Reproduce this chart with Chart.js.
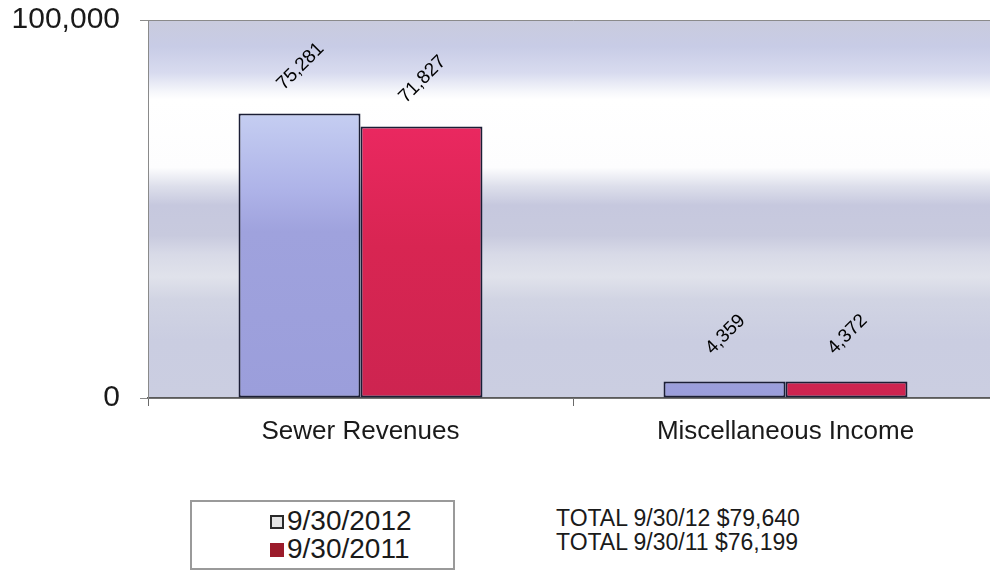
<!DOCTYPE html>
<html>
<head>
<meta charset="utf-8">
<script src="https://cdn.jsdelivr.net/npm/chart.js@4/dist/chart.umd.min.js"></script>
<style>
  html, body { margin: 0; padding: 0; background: #fff; overflow: hidden; width: 990px; height: 572px; }
  body { position: relative; font-family: 'Liberation Sans', Arial, sans-serif; color: #1a1a1a; }
  #wrap { position: absolute; left: 0; top: 0; width: 998px; height: 452px; }
  #legend { position: absolute; left: 190px; top: 500px; width: 265px; height: 70px;
    border: 2px solid #9a9a9a; box-sizing: border-box; }
  .lg { position: absolute; left: 78px; font-size: 28px; line-height: 28px; white-space: nowrap; }
  .ic { display: inline-block; width: 14px; height: 14px; box-sizing: border-box; margin-right: 3px; vertical-align: 1px; }
  #totals { position: absolute; left: 556px; top: 507px; font-size: 23px; line-height: 23.5px; white-space: nowrap; }
</style>
</head>
<body>
<div id="wrap"><canvas id="chart" width="998" height="452"></canvas></div>
<div id="legend"></div>
<div id="totals"></div>
<script>
const CATEGORIES = ['Sewer Revenues', 'Miscellaneous Income'];
const SERIES = ['9/30/2012', '9/30/2011'];
const VALUES_2012 = [75281, 4359];
const VALUES_2011 = [71827, 4372];
const Y_TICKS = [0, 100000];
const TOTALS = ['TOTAL 9/30/12 $79,640', 'TOTAL 9/30/11 $76,199'];
const LEGEND_ICONS = ['#2a2a2a', '#9b1b2a'];

const fmt = v => v.toLocaleString('en-US');

// vertical gradient spanning the plot area
function grad(ctx, area, stops) {
  const g = ctx.createLinearGradient(0, area.top, 0, area.bottom);
  stops.forEach(([o, c]) => g.addColorStop(o, c));
  return g;
}

const BLUE = [[0, '#d4dcf6'], [0.24, '#c6cff2'], [0.45, '#aeb3e8'], [0.56, '#9fa2dd'], [1, '#9b9edb']];
const RED = [[0, '#ee2a64'], [0.28, '#ea2860'], [0.6, '#d82552'], [1, '#cd2450']];
const BG = [
  [0, '#c9cbdd'], [0.07, '#c8cce6'], [0.14, '#d8dbef'], [0.19, '#f6f7fb'], [0.21, '#ffffff'],
  [0.39, '#fdfdfe'], [0.44, '#dddfeb'], [0.49, '#c6c8de'], [0.57, '#c8cade'],
  [0.62, '#d8dae7'], [0.68, '#e0e2eb'], [0.74, '#d1d4e3'], [0.85, '#cacde1'], [1, '#cbcee1'],
];

const bgPlugin = {
  id: 'plotBg',
  beforeDraw(chart) {
    const { ctx, chartArea: a } = chart;
    ctx.save();
    ctx.fillStyle = grad(ctx, a, BG);
    ctx.fillRect(a.left, a.top, a.right - a.left, a.bottom - a.top);
    ctx.restore();
  },
};

const labelPlugin = {
  id: 'valueLabels',
  afterDatasetsDraw(chart) {
    const { ctx } = chart;
    ctx.save();
    ctx.font = '19px "Liberation Sans", Arial, sans-serif';
    ctx.fillStyle = '#000';
    ctx.textAlign = 'center';
    ctx.textBaseline = 'middle';
    chart.data.datasets.forEach((ds, i) => {
      chart.getDatasetMeta(i).data.forEach((el, j) => {
        ctx.save();
        ctx.translate(el.x + 1, el.y - 47);
        ctx.rotate(-Math.PI / 4);
        ctx.fillText(fmt(ds.data[j]), 0, 0);
        ctx.restore();
      });
    });
    ctx.restore();
  },
};

new Chart(document.getElementById('chart'), {
  type: 'bar',
  data: {
    labels: CATEGORIES,
    datasets: [
      { label: SERIES[0], data: VALUES_2012,
        backgroundColor: c => c.chart.chartArea ? grad(c.chart.ctx, c.chart.chartArea, BLUE) : '#a5a9e2' },
      { label: SERIES[1], data: VALUES_2011,
        backgroundColor: c => c.chart.chartArea ? grad(c.chart.ctx, c.chart.chartArea, RED) : '#d82552' },
    ].map(d => ({ ...d, borderColor: '#1b1e36', borderWidth: 2, borderSkipped: false,
      barPercentage: 1, categoryPercentage: 0.574 })),
  },
  options: {
    responsive: false,
    devicePixelRatio: 1,
    animation: false,
    layout: { padding: { top: 20, right: 0, left: 0, bottom: 0 } },
    plugins: { legend: { display: false }, tooltip: { enabled: false } },
    scales: {
      x: {
        afterFit: s => { s.height = 54; s.paddingLeft = 0; s.paddingRight = 0; },
        grid: { offset: true, drawOnChartArea: false, tickLength: 8, color: '#6a6a6a' },
        border: { color: '#5a5a5a', width: 1.5 },
        ticks: { color: '#1a1a1a', padding: 10, font: { family: 'Liberation Sans', size: 26 } },
      },
      y: {
        min: 0, max: 100000,
        afterFit: s => { s.width = 148; s.paddingTop = 0; s.paddingBottom = 0; },
        afterBuildTicks: s => { s.ticks = Y_TICKS.map(v => ({ value: v })); },
        grid: { color: '#8a8a8a', tickLength: 8 },
        border: { color: '#8a8a8a' },
        ticks: { color: '#1a1a1a', padding: 20, callback: v => fmt(v),
          font: { family: 'Liberation Sans', size: 30 } },
      },
    },
  },
  plugins: [bgPlugin, labelPlugin],
});

document.getElementById('legend').innerHTML = SERIES.map((s, i) => {
  const icon = i === 0
    ? `<span class="ic" style="border:2px solid ${LEGEND_ICONS[0]};background:#e4e4e4"></span>`
    : `<span class="ic" style="background:${LEGEND_ICONS[1]}"></span>`;
  return `<div class="lg" style="top:${5 + i * 28}px">${icon}${s}</div>`;
}).join('');
document.getElementById('totals').innerHTML = TOTALS.map(t => `<div>${t}</div>`).join('');
</script>
</body>
</html>
